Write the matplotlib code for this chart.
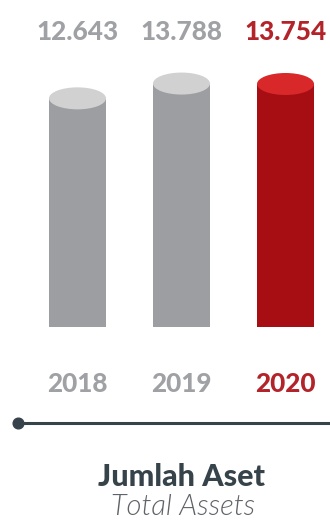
import matplotlib
matplotlib.use("Agg")
import matplotlib.pyplot as plt
from matplotlib.patches import Ellipse
from matplotlib.lines import Line2D
from matplotlib.transforms import blended_transform_factory
import numpy as np

years = ["2018", "2019", "2020"]
values = [12.643, 13.788, 13.754]
value_labels = ["12.643", "13.788", "13.754"]
title = "Jumlah Aset"
subtitle = "Total Assets"

W, H = 330, 521
fig = plt.figure(figsize=(W / 100, H / 100), dpi=100)
fig.patch.set_facecolor("white")

base_px = 327.0
k = 12.93            # px per unit
base = -5.04
ax = fig.add_axes([0, (H - base_px) / H, 1, base_px / H])
xpx = 104.0
ax.set_xlim(-77.5 / xpx, (W - 77.5) / xpx)
ax.set_ylim(base, base + base_px / k)
ax.axis("off")

body_cols = ["#9d9ea2", "#9d9ea2", "#a70e14"]
top_cols = ["#d1d1d1", "#d1d1d1", "#d8282a"]
text_cols = ["#a0a1a5", "#a0a1a5", "#b3232a"]

x = np.arange(len(values))
bw = 57 / xpx
vals = np.array(values)
ax.bar(x, vals - base, bottom=base, width=bw, color=body_cols, linewidth=0)
eh = 22 / k
for i, v in enumerate(values):
    ax.add_patch(Ellipse((x[i], v), bw, eh, facecolor=top_cols[i], edgecolor="none", zorder=3))

tr = blended_transform_factory(ax.transData, fig.transFigure)
for i in range(len(values)):
    ax.text(x[i], 1 - 39.5 / H, value_labels[i], transform=tr, ha="center", va="baseline",
            fontsize=18.8, fontweight=900, family="Lato", color=text_cols[i])
    ax.text(x[i], 1 - 392 / H, years[i], transform=tr, ha="center", va="baseline",
            fontsize=18.8, fontweight=900, family="Lato", color=text_cols[i])

ly = 1 - 423.3 / H
fig.add_artist(Line2D([18.3 / W, 1.0], [ly, ly], transform=fig.transFigure,
                      color="#37434a", linewidth=2.2))
fig.add_artist(Line2D([18.3 / W], [ly], transform=fig.transFigure, marker="o",
                      markersize=7.7, color="#37434a", linestyle="none"))

fig.text(181.5 / W, 1 - 486 / H, title, ha="center", va="baseline", fontsize=22,
         fontweight=900, family="Lato", color="#37434a")
fig.text(183 / W, 1 - 515 / H, subtitle, ha="center", va="baseline", fontsize=21,
         fontweight=300, style="italic", family="Lato", color="#5f6266")

fig.savefig("out.png", dpi=100, facecolor="white")
